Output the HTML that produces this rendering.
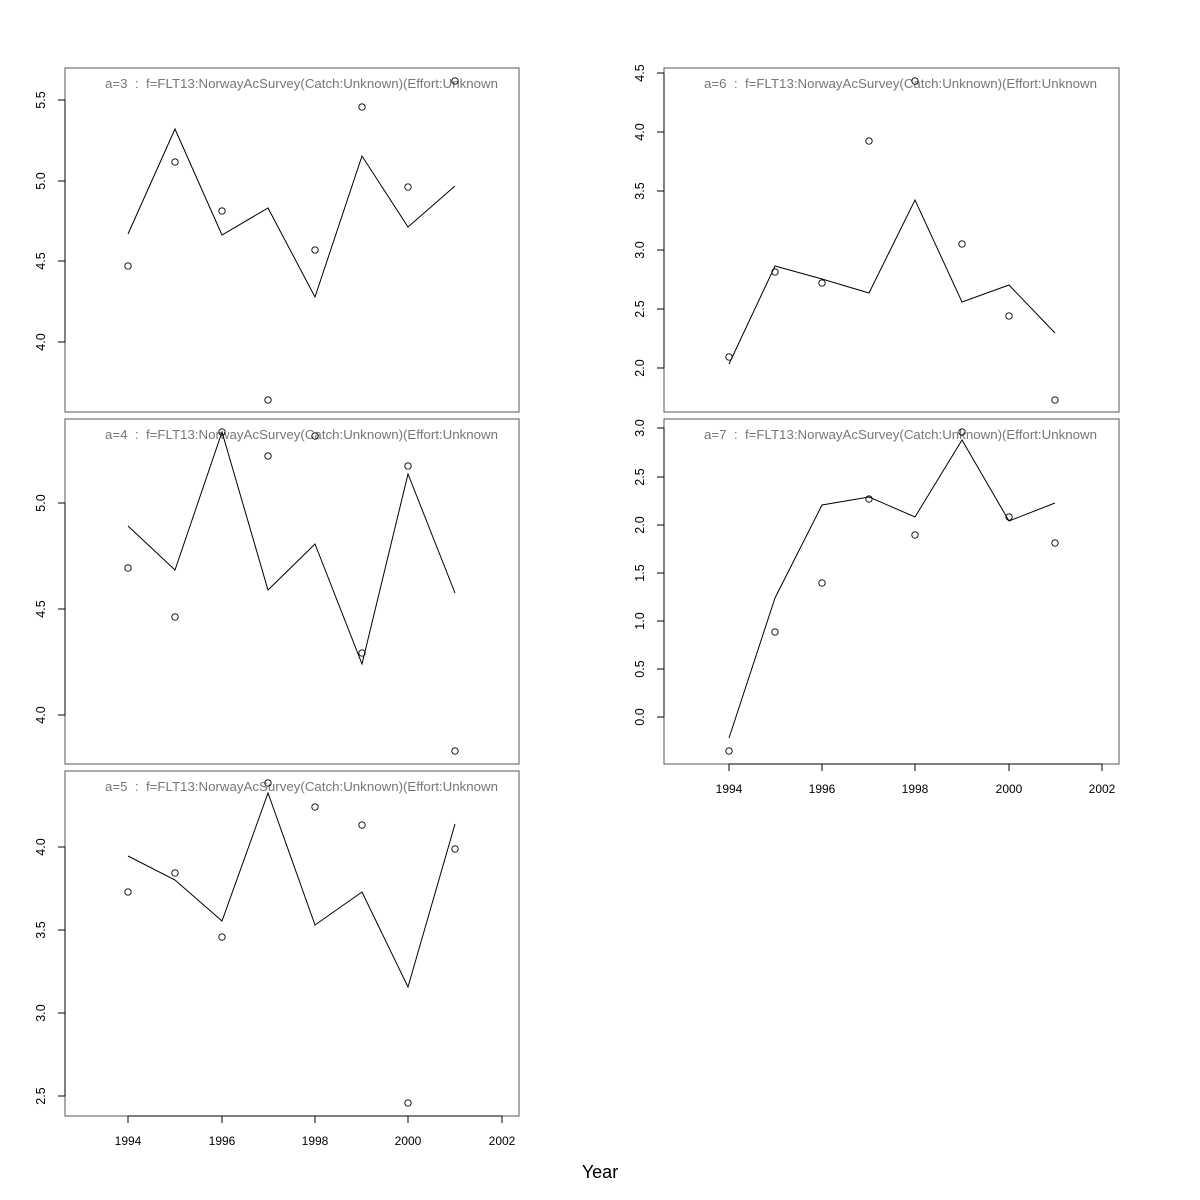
<!DOCTYPE html>
<html><head><meta charset="utf-8"><style>html,body{margin:0;padding:0;background:#fff}svg{display:block}</style></head>
<body>
<svg id="s" width="1200" height="1200" xmlns="http://www.w3.org/2000/svg" font-family="Liberation Sans, sans-serif">
<rect width="1200" height="1200" fill="#fff"/>
</svg>
<script>
const s=document.getElementById('s');let h='';
const yrsL=[128,175,222,268,315,362,408,455], yrsR=[729,775,822,869,915,962,1009,1055];
const P=[
 {x0:65,x1:519,y0:68,y1:412,t:'a=3',tx:105,xs:yrsL,ticks:[[100,'5.5'],[181,'5.0'],[261,'4.5'],[342,'4.0']],
  pts:[266,162,211,400,250,107,187,81],ln:[234,129,235,208,297,156,227,186]},
 {x0:65,x1:519,y0:419,y1:764,t:'a=4',tx:105,xs:yrsL,ticks:[[503,'5.0'],[609,'4.5'],[715,'4.0']],
  pts:[568,617,432,456,436,653,466,751],ln:[526,570,432,590,544,664,474,593]},
 {x0:65,x1:519,y0:771,y1:1116,t:'a=5',tx:105,xs:yrsL,ticks:[[847,'4.0'],[930,'3.5'],[1013,'3.0'],[1096,'2.5']],
  pts:[892,873,937,783,807,825,1103,849],ln:[856,880,921,793,925,892,987,824],xa:true,xt:[128,222,315,408,502]},
 {x0:664,x1:1119,y0:68,y1:412,t:'a=6',tx:704,xs:yrsR,ticks:[[73,'4.5'],[132,'4.0'],[191,'3.5'],[250,'3.0'],[309,'2.5'],[368,'2.0']],
  pts:[357,272,283,141,81,244,316,400],ln:[364,266,279,293,200,302,285,333]},
 {x0:664,x1:1119,y0:419,y1:764,t:'a=7',tx:704,xs:yrsR,ticks:[[428,'3.0'],[477,'2.5'],[525,'2.0'],[573,'1.5'],[621,'1.0'],[669,'0.5'],[717,'0.0']],
  pts:[751,632,583,499,535,432,517,543],ln:[738,598,505,497,517,440,521,503],xa:true,xt:[729,822,915,1009,1102]}
];
for(const p of P){
 h+=`<rect x="${p.x0}" y="${p.y0}" width="${p.x1-p.x0}" height="${p.y1-p.y0}" fill="none" stroke="#555" stroke-width="1"/>`;
 const tk=p.ticks;
 h+=`<line x1="${p.x0}" y1="${tk[0][0]}" x2="${p.x0}" y2="${tk[tk.length-1][0]}" stroke="#000"/>`;
 for(const [y,l] of tk){
  h+=`<line x1="${p.x0-7}" y1="${y}" x2="${p.x0}" y2="${y}" stroke="#000"/>`;
  const lx=p.x0-20;
  h+=`<text x="${lx}" y="${y}" font-size="12.5" text-anchor="middle" transform="rotate(-90 ${lx} ${y})">${l}</text>`;
 }
 h+=`<text x="${p.tx}" y="${p.y0+20}" font-size="13" fill="#777" textLength="393" lengthAdjust="spacingAndGlyphs">${p.t}&#160;&#160;:&#160;&#160;f=FLT13:NorwayAcSurvey(Catch:Unknown)(Effort:Unknown</text>`;
 h+=`<polyline fill="none" stroke="#000" stroke-width="1" points="${p.xs.map((x,i)=>x+','+p.ln[i]).join(' ')}"/>`;
 p.xs.forEach((x,i)=>{h+=`<circle cx="${x}" cy="${p.pts[i]}" r="3.2" fill="none" stroke="#000" stroke-width="0.9"/>`;});
 if(p.xa){
  const b=p.y1;
  h+=`<line x1="${p.xt[0]}" y1="${b}" x2="${p.xt[4]}" y2="${b}" stroke="#000"/>`;
  ['1994','1996','1998','2000','2002'].forEach((l,i)=>{
   const x=p.xt[i];
   h+=`<line x1="${x}" y1="${b}" x2="${x}" y2="${b+7}" stroke="#000"/>`;
   h+=`<text x="${x}" y="${b+29}" font-size="12" text-anchor="middle">${l}</text>`;
  });
 }
}
h+=`<text x="600" y="1178" font-size="18" text-anchor="middle">Year</text>`;
s.innerHTML+=h;
</script>
</body></html>
